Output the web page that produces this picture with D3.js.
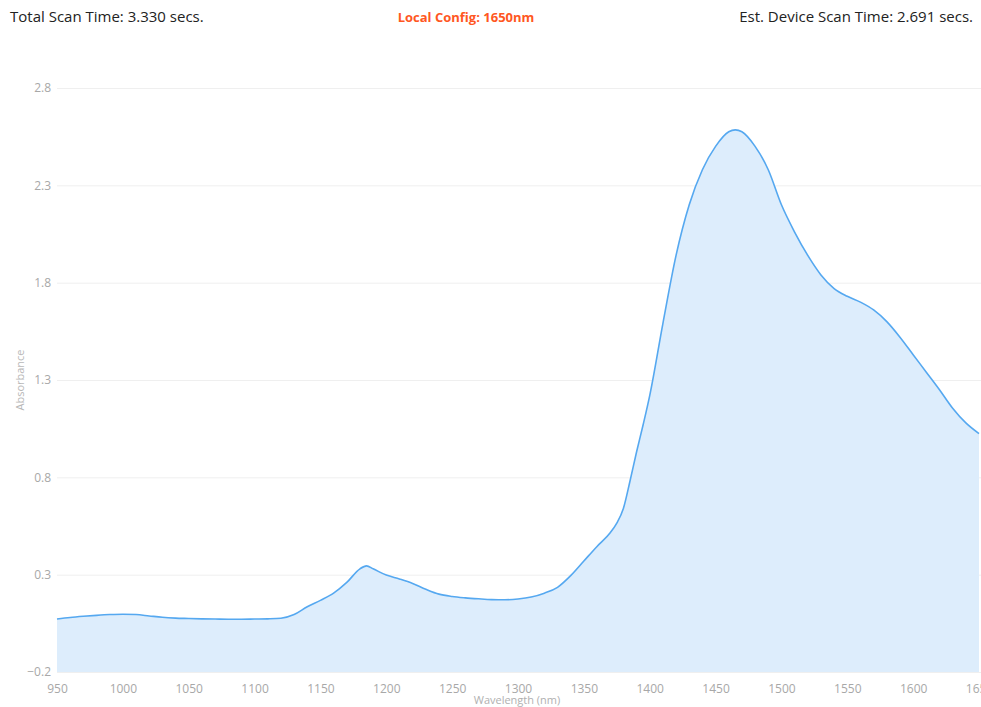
<!DOCTYPE html>
<html>
<head>
<meta charset="utf-8">
<script src="https://cdn.jsdelivr.net/npm/d3@7"></script>
<style>
  body { margin: 0; background: #fff; overflow: hidden; }
  svg { display: block; font-family: "Open Sans", sans-serif; }
</style>
</head>
<body>
<svg class="d3-svg"></svg>
<script>
let wavelengths = [950, 960, 970, 980, 990, 1000, 1010, 1020, 1030, 1040, 1050, 1060, 1070, 1080, 1090,
  1100, 1110, 1120, 1130, 1140, 1150, 1160, 1170, 1180, 1185, 1190, 1200, 1210, 1220, 1230, 1240,
  1250, 1260, 1270, 1280, 1290, 1300, 1310, 1320, 1330, 1340, 1350, 1360, 1370, 1375, 1380, 1385, 1390, 1395,
  1400, 1410, 1420, 1430, 1440, 1450, 1460, 1465, 1470, 1480, 1490, 1500, 1510, 1520, 1530,
  1540, 1550, 1560, 1570, 1580, 1590, 1600, 1610, 1620, 1630, 1640, 1650];
let absorbance = [0.072, 0.080, 0.086, 0.091, 0.095, 0.097, 0.095, 0.088, 0.081, 0.077, 0.075, 0.073, 0.072, 0.071, 0.071,
  0.072, 0.073, 0.076, 0.095, 0.135, 0.168, 0.205, 0.260, 0.330, 0.345, 0.330, 0.298, 0.278, 0.255, 0.225, 0.200,
  0.188, 0.181, 0.176, 0.172, 0.171, 0.175, 0.185, 0.205, 0.235, 0.295, 0.370, 0.445, 0.515, 0.565, 0.640, 0.780, 0.930, 1.070,
  1.220, 1.590, 1.940, 2.200, 2.380, 2.500, 2.575, 2.585, 2.575, 2.500, 2.380, 2.200, 2.060, 1.940, 1.840,
  1.770, 1.730, 1.700, 1.660, 1.600, 1.520, 1.430, 1.340, 1.250, 1.155, 1.080, 1.025];
let xTicks = [950, 1000, 1050, 1100, 1150, 1200, 1250, 1300, 1350, 1400, 1450, 1500, 1550, 1600, 1650];
let yTicks = [-0.2, 0.3, 0.8, 1.3, 1.8, 2.3, 2.8];

let data = wavelengths.map(function(w, i) { return { x: w, y: absorbance[i] }; });

let width  = 981;
let height = 707;
let svg = d3.select(".d3-svg").attr("width", width).attr("height", height);

let x = d3.scaleLinear().domain([950, 1650]).range([57, 979]);
let y = d3.scaleLinear().domain([-0.2, 2.8]).range([672, 88]);

// header texts
svg.append("text")
  .attr("x", 10).attr("y", 22)
  .attr("font-size", "15px").attr("fill", "#222")
  .text("Total Scan Time: 3.330 secs.");

svg.append("text")
  .attr("x", 466).attr("y", 22)
  .attr("text-anchor", "middle")
  .attr("font-size", "13px").attr("font-weight", "bold")
  .attr("fill", "#ff5722")
  .text("Local Config: 1650nm");

svg.append("text")
  .attr("x", 973).attr("y", 22)
  .attr("text-anchor", "end")
  .attr("font-size", "15px").attr("fill", "#222")
  .text("Est. Device Scan Time: 2.691 secs.");

// grid
svg.append("g")
  .attr("class", "y-grid")
  .attr("transform", "translate(57,0)")
  .call(d3.axisRight(y).tickValues(yTicks).tickSize(width - 57).tickFormat(""))
  .call(function(g) { g.select(".domain").remove(); })
  .selectAll("line")
  .attr("stroke", "#efefef");

// area + line
let area = d3.area()
  .x(function(d) { return x(d.x); })
  .y0(y(-0.2))
  .y1(function(d) { return y(d.y); })
  .curve(d3.curveMonotoneX);

let line = d3.line()
  .x(function(d) { return x(d.x); })
  .y(function(d) { return y(d.y); })
  .curve(d3.curveMonotoneX);

svg.append("path")
  .attr("fill", "#ddedfc")
  .attr("d", area(data));

svg.append("path")
  .attr("fill", "none")
  .attr("stroke", "#55a8f0")
  .attr("stroke-width", 1.6)
  .attr("stroke-linejoin", "round")
  .attr("d", line(data));

// axes
let yAxis = svg.append("g")
  .attr("class", "y-axis")
  .attr("transform", "translate(51,0)")
  .call(d3.axisLeft(y).tickValues(yTicks).tickSize(0).tickPadding(0).tickFormat(d3.format(".1f")));
yAxis.select(".domain").remove();
yAxis.selectAll("text").attr("fill", "#a8a8a8").attr("font-size", "12px").attr("font-family", "Open Sans, sans-serif");

let xAxis = svg.append("g")
  .attr("class", "x-axis")
  .attr("transform", "translate(0,680)")
  .call(d3.axisBottom(x).tickValues(xTicks).tickSize(0).tickPadding(4).tickFormat(d3.format("d")));
xAxis.select(".domain").remove();
xAxis.selectAll("text").attr("fill", "#a8a8a8").attr("font-size", "12px").attr("font-family", "Open Sans, sans-serif");

svg.append("text")
  .attr("x", 517).attr("y", 704)
  .attr("text-anchor", "middle")
  .attr("font-size", "11px").attr("fill", "#b0b0b0")
  .text("Wavelength (nm)");

svg.append("text")
  .attr("transform", "translate(24,380) rotate(-90)")
  .attr("text-anchor", "middle")
  .attr("font-size", "11px").attr("fill", "#b8b8b8")
  .text("Absorbance");
</script>
</body>
</html>
